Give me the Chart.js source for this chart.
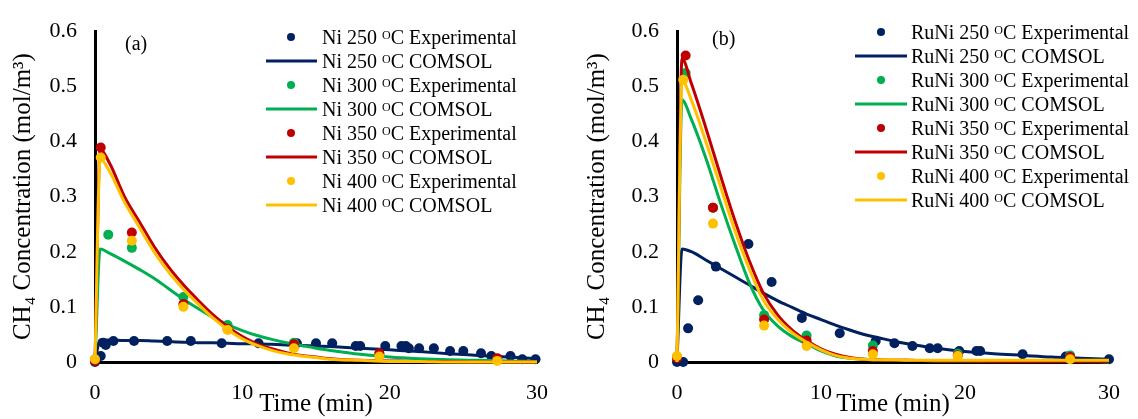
<!DOCTYPE html>
<html>
<head>
<meta charset="utf-8">
<script src="https://cdn.jsdelivr.net/npm/chart.js@4.4.1/dist/chart.umd.min.js"></script>
<style>
  body { margin: 0; background: #fff; }
  canvas { position: absolute; top: 0; }
</style>
</head>
<body>
<canvas id="chartNi" width="568" height="419" style="left:0"></canvas>
<canvas id="chartRuNi" width="570" height="419" style="left:568px"></canvas>
<script>
// temperatures (oC) of the four series
const temps = [250, 300, 350, 400];
const xTicks = [0, 10, 20, 30];
const yTicks = [0, 0.1, 0.2, 0.3, 0.4, 0.5, 0.6];

// ---- Ni catalyst (a) ----
const niExpTime = [
  [0, 0.39, 0.55, 0.73, 1.25, 2.65, 4.9, 6.5, 8.6, 11.1, 13.7, 15.0, 16.1, 17.7, 18.0, 19.7, 20.8, 21.1, 21.3, 22.0, 23.0, 24.1, 25.0, 26.2, 26.9, 28.2, 29.0, 29.9],
  [0, 0.9, 2.5, 6.0, 9.0, 13.5, 19.3, 27.3],
  [0, 0.39, 2.5, 6.0, 9.0, 13.5, 19.3, 27.3],
  [0, 0.39, 2.5, 6.0, 9.0, 13.5, 19.3, 27.3]
];
const niExp = [
  [0, 0.011, 0.035, 0.031, 0.038, 0.038, 0.038, 0.038, 0.034, 0.034, 0.034, 0.034, 0.034, 0.029, 0.029, 0.029, 0.029, 0.029, 0.025, 0.025, 0.025, 0.020, 0.020, 0.016, 0.011, 0.011, 0.005, 0.005],
  [0.005, 0.231, 0.207, 0.118, 0.067, 0.035, 0.014, 0.006],
  [0.002, 0.389, 0.235, 0.105, 0.060, 0.032, 0.016, 0.007],
  [0.005, 0.371, 0.220, 0.100, 0.058, 0.025, 0.010, 0.002]
];
const modelTime = [0, 0.35, 1, 2, 3, 4, 5, 6, 7, 8, 9, 10, 11, 12, 13, 14, 15, 16, 18, 20, 22, 24, 26, 28, 30];
const niModel = [
  [0, 0.040, 0.040, 0.039, 0.039, 0.038, 0.037, 0.036, 0.035, 0.035, 0.034, 0.033, 0.033, 0.032, 0.031, 0.030, 0.029, 0.028, 0.025, 0.022, 0.019, 0.015, 0.012, 0.009, 0.006],
  [0, 0.205, 0.197, 0.183, 0.168, 0.152, 0.133, 0.114, 0.097, 0.081, 0.068, 0.057, 0.048, 0.041, 0.035, 0.030, 0.025, 0.021, 0.014, 0.009, 0.006, 0.004, 0.003, 0.002, 0.001],
  [0, 0.385, 0.360, 0.300, 0.255, 0.210, 0.172, 0.140, 0.112, 0.086, 0.064, 0.046, 0.033, 0.024, 0.017, 0.012, 0.009, 0.006, 0.003, 0.002, 0.001, 0.001, 0, 0, 0],
  [0, 0.368, 0.345, 0.290, 0.245, 0.200, 0.163, 0.132, 0.105, 0.080, 0.059, 0.042, 0.030, 0.021, 0.015, 0.011, 0.008, 0.005, 0.003, 0.001, 0.001, 0, 0, 0, 0]
];

// ---- RuNi catalyst (b) ----
const ruExpTime = [
  [0, 0.43, 0.77, 1.47, 2.7, 4.96, 6.57, 8.67, 11.3, 13.8, 15.1, 16.35, 17.55, 18.1, 19.6, 20.8, 21.05, 24.0, 27.0, 30.0],
  [0, 0.6, 2.5, 6.05, 9.0, 13.6, 19.5, 27.3],
  [0, 0.6, 2.5, 6.05, 9.0, 13.6, 19.5, 27.3],
  [0, 0.43, 2.5, 6.05, 9.0, 13.6, 19.5, 27.3]
];
const ruExp = [
  [0, 0, 0.061, 0.112, 0.173, 0.214, 0.145, 0.080, 0.052, 0.038, 0.034, 0.029, 0.025, 0.025, 0.020, 0.020, 0.020, 0.014, 0.010, 0.005],
  [0.010, 0.524, 0.280, 0.085, 0.048, 0.030, 0.015, 0.012],
  [0.007, 0.556, 0.280, 0.077, 0.039, 0.020, 0.012, 0.009],
  [0.011, 0.512, 0.251, 0.066, 0.029, 0.014, 0.011, 0.005]
];
const ruModel = [
  [0, 0.205, 0.200, 0.185, 0.170, 0.155, 0.140, 0.125, 0.111, 0.099, 0.087, 0.077, 0.067, 0.058, 0.050, 0.044, 0.038, 0.033, 0.025, 0.019, 0.015, 0.012, 0.009, 0.007, 0.005],
  [0, 0.475, 0.440, 0.370, 0.290, 0.215, 0.145, 0.094, 0.065, 0.046, 0.033, 0.020, 0.011, 0.007, 0.005, 0.004, 0.003, 0.003, 0.002, 0.002, 0.001, 0.001, 0.001, 0.001, 0],
  [0, 0.550, 0.505, 0.425, 0.340, 0.258, 0.185, 0.125, 0.085, 0.058, 0.039, 0.024, 0.014, 0.008, 0.005, 0.004, 0.003, 0.003, 0.002, 0.002, 0.001, 0.001, 0.001, 0.001, 0.001],
  [0, 0.510, 0.475, 0.400, 0.320, 0.240, 0.170, 0.112, 0.077, 0.053, 0.036, 0.022, 0.012, 0.007, 0.005, 0.004, 0.004, 0.003, 0.003, 0.003, 0.003, 0.003, 0.003, 0.003, 0.003]
];

const colors = ['#002060', '#00B050', '#C00000', '#FFC000'];
const serif = '"Liberation Serif", "Times New Roman", serif';

function buildDatasets(cat, expTime, exp, model) {
  const out = [];
  temps.forEach((t, i) => {
    out.push({
      catalyst: cat, temp: t, kind: 'Experimental',
      data: expTime[i].map((x, j) => ({ x: x, y: exp[i][j] })),
      showLine: false, pointRadius: 5, pointHoverRadius: 5,
      backgroundColor: colors[i], borderColor: colors[i], borderWidth: 0,
      order: 10 - 2 * i, clip: false
    });
    out.push({
      catalyst: cat, temp: t, kind: 'COMSOL',
      data: modelTime.map((x, j) => ({ x: x, y: model[i][j] })),
      showLine: true, pointRadius: 0, borderWidth: 3,
      cubicInterpolationMode: 'monotone',
      backgroundColor: colors[i], borderColor: colors[i],
      order: 9 - 2 * i, clip: false
    });
  });
  return out;
}

// legend drawn inside the plot, with the raised "O" of oC
const insideLegend = {
  id: 'insideLegend',
  afterDraw(chart, args, o) {
    const ctx = chart.ctx;
    ctx.save();
    chart.data.datasets.forEach((ds, i) => {
      const y = o.top + i * o.gap;
      if (ds.showLine) {
        ctx.strokeStyle = ds.borderColor;
        ctx.lineWidth = 3;
        ctx.beginPath();
        ctx.moveTo(o.lineX0, y);
        ctx.lineTo(o.lineX1, y);
        ctx.stroke();
      } else {
        ctx.fillStyle = ds.backgroundColor;
        ctx.beginPath();
        ctx.arc(o.dotX, y, 4, 0, Math.PI * 2);
        ctx.fill();
      }
      ctx.fillStyle = '#000';
      ctx.textAlign = 'left';
      ctx.textBaseline = 'alphabetic';
      const base = y + 7;
      let x = o.textX;
      const head = ds.catalyst + ' ' + ds.temp + ' ';
      ctx.font = '20px ' + serif;
      ctx.fillText(head, x, base);
      x += ctx.measureText(head).width;
      ctx.font = '12px ' + serif;
      ctx.fillText('O', x, base - 5.5);
      x += ctx.measureText('O').width;
      ctx.font = '20px ' + serif;
      ctx.fillText('C ' + ds.kind, x, base);
    });
    ctx.font = '20px ' + serif;
    ctx.textBaseline = 'middle';
    ctx.fillText(o.tag, o.tagX, o.tagY);
    ctx.restore();
  }
};

function makePanel(id, datasets, p) {
  new Chart(document.getElementById(id), {
    type: 'scatter',
    data: { datasets: datasets },
    options: {
      responsive: false,
      animation: false,
      layout: { padding: { left: 0, right: p.padRight, top: p.padTop, bottom: 0 } },
      plugins: {
        legend: { display: false },
        tooltip: { enabled: false },
        insideLegend: p.legend
      },
      scales: {
        x: {
          type: 'linear', min: 0, max: 30,
          afterBuildTicks: s => { s.ticks = xTicks.map(v => ({ value: v })); },
          afterFit: s => { s.height = 57; },
          grid: { display: false, drawTicks: false },
          border: { display: true, color: '#000', width: 3 },
          ticks: { color: '#000', padding: 18, font: { family: serif, size: 22 } },
          title: { display: true, text: 'Time (min)', color: '#000', padding: 0, font: { family: serif, size: 25 } }
        },
        y: {
          type: 'linear', min: 0, max: 0.6,
          afterBuildTicks: s => { s.ticks = yTicks.map(v => ({ value: v })); },
          afterFit: s => { s.width = p.axisLeft; },
          grid: { display: false, drawTicks: false },
          border: { display: true, color: '#000', width: 3 },
          ticks: { color: '#000', padding: 18, font: { family: serif, size: 22 } },
          title: { display: true, text: 'CH₄ Concentration (mol/m³)', color: '#000', padding: { top: p.titlePad, bottom: 0 }, font: { family: serif, size: 25 } }
        }
      }
    },
    plugins: [insideLegend]
  });
}

makePanel('chartNi', buildDatasets('Ni', niExpTime, niExp, niModel), {
  axisLeft: 95, padRight: 31, padTop: 30, titlePad: 8,
  legend: { top: 37, gap: 24, lineX0: 266, lineX1: 317, dotX: 291, textX: 322, tag: '(a)', tagX: 125, tagY: 45 }
});
makePanel('chartRuNi', buildDatasets('RuNi', ruExpTime, ruExp, ruModel), {
  axisLeft: 109, padRight: 18, padTop: 27, titlePad: 14,
  legend: { top: 32, gap: 24, lineX0: 287, lineX1: 339, dotX: 313, textX: 343, tag: '(b)', tagX: 144, tagY: 40 }
});
</script>
</body>
</html>
